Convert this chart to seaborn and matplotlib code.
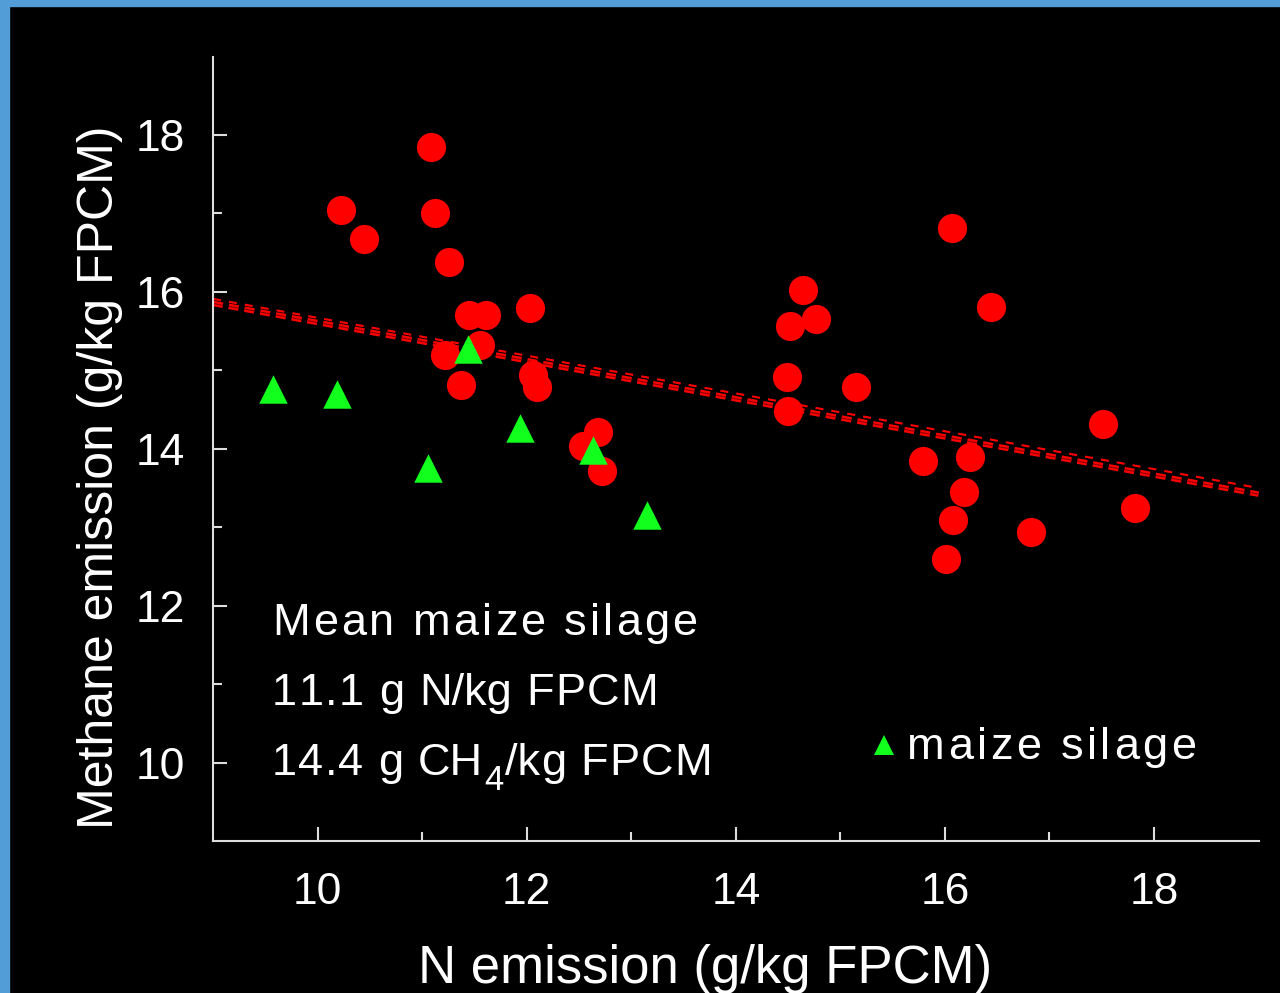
import numpy as np
import pandas as pd
import matplotlib.pyplot as plt
import seaborn as sns
import matplotlib.font_manager as fm
from matplotlib.ft2font import FT2Font
from matplotlib.patches import Rectangle
from matplotlib.ticker import FixedLocator
from matplotlib.transforms import offset_copy

# N emission vs methane emission (g/kg FPCM)
other_n = [11.08, 10.22, 11.12, 10.44, 11.26, 11.45, 11.61, 12.03, 11.22, 11.55, 11.37,
           12.06, 12.10, 12.54, 12.68, 12.72, 14.64, 14.77, 14.52, 14.49, 14.50, 15.15,
           16.07, 16.44, 15.79, 16.24, 16.18, 16.08, 16.01, 16.82, 17.51, 17.82]
other_ch4 = [17.85, 17.04, 17.01, 16.67, 16.38, 15.71, 15.70, 15.80, 15.20, 15.32, 14.81,
             14.94, 14.79, 14.03, 14.21, 13.72, 16.02, 15.66, 15.56, 14.92, 14.48, 14.79,
             16.82, 15.81, 13.85, 13.90, 13.45, 13.09, 12.60, 12.94, 14.32, 13.24]

maize_n = [9.57, 10.19, 11.44, 11.06, 11.94, 12.63, 13.15]
maize_ch4 = [14.76, 14.70, 15.27, 13.76, 14.26, 13.99, 13.16]

# two regression lines (intercept, slope)
fit_thin = (18.08, -0.241)
fit_thick = (18.04, -0.243)

legend_label = "maize silage"

red = "#ff0000"
green = "#12ff1e"
blue = "#529dd8"

sns.set_theme(style="ticks")
plt.rcParams["font.family"] = ["Liberation Sans", "DejaVu Sans"]
plt.rcParams["lines.scale_dashes"] = False

font_path = fm.findfont(fm.FontProperties(family="Liberation Sans"))


def advance(token, size):
    f = FT2Font(font_path)
    f.set_size(size, 72)
    return sum(f.load_char(ord(ch)).linearHoriAdvance / 65536 for ch in token)


def spaced_text(ax, x, y, segments, tracking):
    # slide text is letter-spaced, so place it piece by piece (offsets in points)
    x_off = 0.0
    for tokens, size, dy in segments:
        for tok in tokens:
            if tok.strip():
                tr = offset_copy(ax.transAxes, fig=ax.figure, x=x_off, y=dy, units="points")
                ax.text(x, y, tok, transform=tr, fontsize=size, color="white",
                        va="baseline", ha="left")
            x_off += advance(tok, size) + tracking


fig = plt.figure(figsize=(12.8, 9.93), dpi=100, facecolor="black")
ax = fig.add_axes([0.16645, 0.15287, 0.8168, 0.79023])
ax.set_facecolor("black")

df_other = pd.DataFrame({"n": other_n, "ch4": other_ch4})
df_maize = pd.DataFrame({"n": maize_n, "ch4": maize_ch4})

ax.set_xlim(9, 19)
ax.set_ylim(9, 19)

# regression lines under the markers
xs = np.array(ax.get_xlim())
ax.plot(xs, fit_thin[0] + fit_thin[1] * xs, color=red, lw=1.5,
        dashes=(5.8, 5.8), zorder=2, clip_on=False)
ax.plot(xs, fit_thick[0] + fit_thick[1] * xs, color=red, lw=4,
        dashes=(7.2, 4.3), zorder=2, clip_on=False)
ax.plot(xs, fit_thick[0] + fit_thick[1] * xs, color="#8a0000", lw=0.8,
        dashes=(7.2, 4.3), zorder=2.1, clip_on=False)

sns.scatterplot(data=df_other, x="n", y="ch4", marker="o", s=441, color=red,
                linewidth=0, ax=ax, zorder=3, legend=False)
sns.scatterplot(data=df_maize, x="n", y="ch4", marker="^", s=420, color=green,
                linewidth=0, ax=ax, zorder=4, legend=False)

# axes styling
for side in ["top", "right"]:
    ax.spines[side].set_visible(False)
for side in ["left", "bottom"]:
    ax.spines[side].set_color("#dddddd")
    ax.spines[side].set_linewidth(1.5)

ax.xaxis.set_major_locator(FixedLocator([10, 12, 14, 16, 18]))
ax.yaxis.set_major_locator(FixedLocator([10, 12, 14, 16, 18]))
ax.xaxis.set_minor_locator(FixedLocator([11, 13, 15, 17]))
ax.yaxis.set_minor_locator(FixedLocator([11, 13, 15, 17]))
ax.tick_params(which="both", direction="in", color="#dddddd", width=1.5)
ax.tick_params(which="major", length=10)
ax.tick_params(which="minor", length=6.5)
ax.tick_params(axis="x", which="major", labelsize=32, labelcolor="white", pad=22.5)
ax.tick_params(axis="y", which="major", labelsize=32, labelcolor="white", pad=20)

ax.set_xlabel("N emission (g/kg FPCM)", fontsize=38, color="white", va="baseline")
ax.xaxis.set_label_coords(0.4705, -0.1807)
ax.set_ylabel("Methane emission (g/kg FPCM)", fontsize=36, color="white", va="baseline")
ax.yaxis.set_label_coords(-0.0957, 0.4641)

# note with the maize silage means
spaced_text(ax, 0.0564, 0.2628, [(list("Mean maize silage"), 32.5, 0)], 2.2)
spaced_text(ax, 0.0564, 0.1736,
            [(list("11.1 g ") + ["N/kg"] + list(" FPCM"), 32.5, 0)], 0.9)
spaced_text(ax, 0.0564, 0.0844,
            [(list("14.4 g ") + ["CH"], 32.5, 0), (["4"], 25, -10.8),
             (["/k"] + list("g FPCM"), 32.5, 0)], 0.8)

# legend key for the maize silage triangles
ax.plot([0.6418], [0.1225], marker="^", linestyle="none", color=green,
        markersize=14.4, markeredgewidth=0, transform=ax.transAxes, clip_on=False)
spaced_text(ax, 0.6637, 0.1048, [(list(legend_label), 32.5, 0)], 2.5)

# slide frame
fig.patches.append(Rectangle((0, 0), 9 / 1280, 1, transform=fig.transFigure,
                             color=blue, zorder=0))
fig.patches.append(Rectangle((0, 1 - 6 / 993), 1, 6 / 993, transform=fig.transFigure,
                             color=blue, zorder=0))

fig.savefig("out.png", dpi=100, facecolor="black")
